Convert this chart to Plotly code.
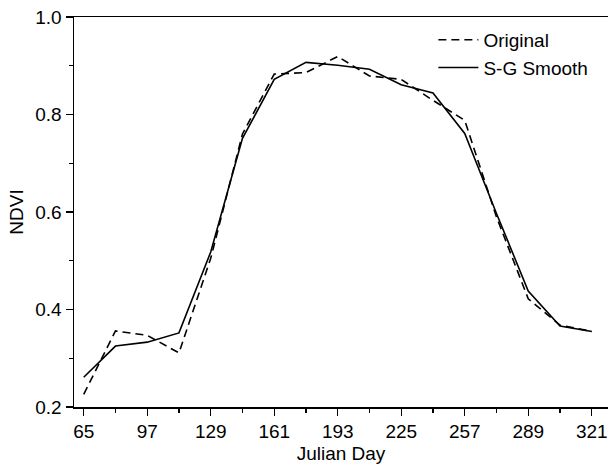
import plotly.graph_objects as go

days = [65, 81, 97, 113, 129, 145, 161, 177, 193, 209, 225, 241, 257, 273, 289, 305, 321]
original = [0.226, 0.356, 0.347, 0.311, 0.505, 0.760, 0.883, 0.886, 0.919, 0.879,
            0.872, 0.829, 0.788, 0.590, 0.422, 0.368, 0.355]
smooth = [0.261, 0.325, 0.333, 0.352, 0.518, 0.751, 0.872, 0.907, 0.901, 0.893,
          0.861, 0.844, 0.761, 0.597, 0.438, 0.366, 0.355]
x_ticks = [65, 97, 129, 161, 193, 225, 257, 289, 321]
y_ticks = [0.2, 0.4, 0.6, 0.8, 1.0]

FONT = "Liberation Sans, Arial, sans-serif"

fig = go.Figure()
fig.add_trace(go.Scatter(x=days, y=original, mode="lines", name="Original",
                         line=dict(color="black", width=1.6, dash="8px,5px")))
fig.add_trace(go.Scatter(x=days, y=smooth, mode="lines", name="S-G Smooth",
                         line=dict(color="black", width=1.6)))

fig.update_layout(
    template="none",
    width=608, height=466,
    margin=dict(l=74, r=0, t=17, b=59),
    paper_bgcolor="white", plot_bgcolor="white",
    font=dict(family=FONT, size=19, color="black"),
    showlegend=True,
    hovermode=False,
    legend=dict(x=0.673, y=0.99, xanchor="left", yanchor="top",
                bgcolor="rgba(0,0,0,0)", font=dict(size=19, family=FONT),
                tracegroupgap=0, itemwidth=40),
)
fig.update_xaxes(
    range=[60.1, 329.2], tickvals=x_ticks, ticktext=[str(v) for v in x_ticks],
    showgrid=False, zeroline=False, showline=True, linecolor="black", linewidth=1.5,
    mirror=True, ticks="outside", ticklen=7, tickwidth=1.2, tickcolor="black",
    minor=dict(tickvals=[81, 113, 145, 177, 209, 241, 273, 305], ticks="outside",
               ticklen=4, tickwidth=1.2, tickcolor="black", showgrid=False),
    title=dict(text="Julian Day", font=dict(size=19, family=FONT), standoff=5),
    tickfont=dict(size=19, family=FONT), automargin=False,
)
fig.update_yaxes(
    range=[0.2, 1.0], tickvals=y_ticks, ticktext=["0.2", "0.4", "0.6", "0.8", "1.0"],
    showgrid=False, zeroline=False, showline=True, linecolor="black", linewidth=1.5,
    mirror=False, ticks="outside", ticklen=7, tickwidth=1.2, tickcolor="black",
    minor=dict(tickvals=[0.3, 0.5, 0.7, 0.9], ticks="outside",
               ticklen=4, tickwidth=1.2, tickcolor="black", showgrid=False),
    title=dict(text="NDVI", font=dict(size=19, family=FONT), standoff=6),
    tickfont=dict(size=19, family=FONT), automargin=False,
)

# remove the browser's default 8px body margin so the figure fills the window
fig.write_html("out.html",
               config={"displayModeBar": False, "staticPlot": True},
               post_script="document.body.style.margin='0';document.body.style.overflow='hidden';")
